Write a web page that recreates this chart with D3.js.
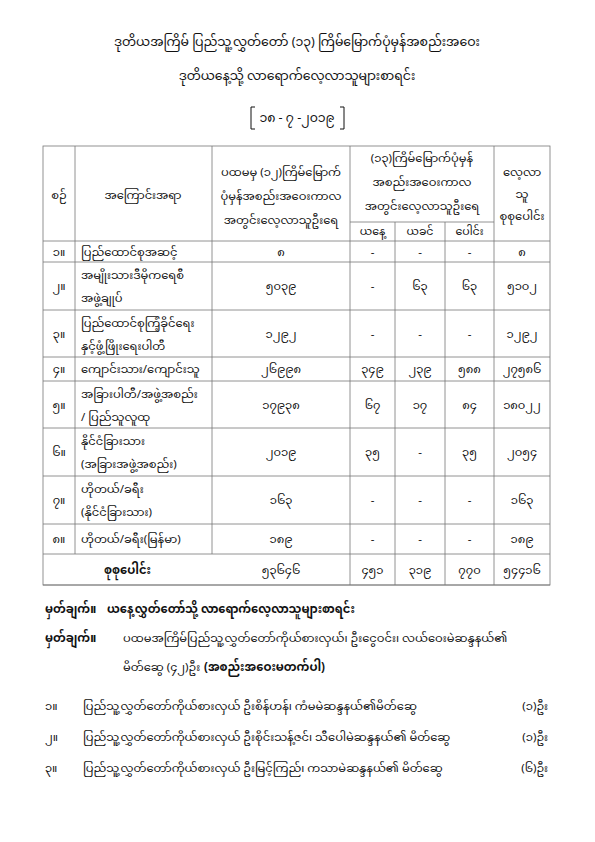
<!DOCTYPE html>
<html><head><meta charset="utf-8">
<script src="https://cdn.jsdelivr.net/npm/d3@7"></script>
<style>
body{margin:0;background:#fff}
text{font-family:"Noto Sans Myanmar","Padauk","Myanmar Text","Noto Sans",sans-serif;fill:#111}
</style></head><body>
<svg id="c" width="595" height="842"></svg>
<script>
// DATA
var rowNo = [1,2,3,4,5,6,7,8]
var categories = [
  ["ပြည်ထောင်စုအဆင့်"],
  ["အမျိုးသားဒီမိုကရေစီ","အဖွဲ့ချုပ်"],
  ["ပြည်ထောင်စုကြံ့ခိုင်ရေး","နှင့်ဖွံ့ဖြိုးရေးပါတီ"],
  ["ကျောင်းသား/ကျောင်းသူ"],
  ["အခြားပါတီ/အဖွဲ့အစည်း","/ ပြည်သူလူထု"],
  ["နိုင်ငံခြားသား","(အခြားအဖွဲ့အစည်း)"],
  ["ဟိုတယ်/ခရီး","(နိုင်ငံခြားသား)"],
  ["ဟိုတယ်/ခရီး(မြန်မာ)"]
]
var first12 = [8,5039,1292,26998,17938,2019,163,189]
var yanay = [0,0,0,349,67,35,0,0]
var yakhin = [0,63,0,239,17,0,0,0]
var total13 = [0,63,0,588,84,35,0,0]
var grand = [8,5102,1292,27586,18022,2054,163,189]
var totals = [53646,451,319,770,54416]
var notes = [
  ["၁။","ပြည်သူ့လွှတ်တော်ကိုယ်စားလှယ် ဦးစိန်ဟန်၊ ကံမမဲဆန္ဒနယ်၏မိတ်ဆွေ","(၁)ဦး"],
  ["၂။","ပြည်သူ့လွှတ်တော်ကိုယ်စားလှယ် ဦးစိုင်းသန့်ဇင်၊ သီပေါမဲဆန္ဒနယ်၏ မိတ်ဆွေ","(၁)ဦး"],
  ["၃။","ပြည်သူ့လွှတ်တော်ကိုယ်စားလှယ် ဦးမြင့်ကြည်၊ ကသာမဲဆန္ဒနယ်၏  မိတ်ဆွေ","(၆)ဦး"]
]

var mm = function(n){ return String(n).replace(/[0-9]/g, d => String.fromCharCode(0x1040 + +d)) }
var val = n => n === 0 ? "-" : mm(n)

var svg = d3.select("#c")
var cols = [43,75,212,350,395,445,494,550]
var rowEdges = [241,262,310,357,381,428,476,524,554,585]
var y = d3.scaleOrdinal().domain(d3.range(10)).range(rowEdges)
var FS = 11.5

function t(x, yy, s, anchor, bold, size){
  return svg.append("text").attr("x", x).attr("y", yy).attr("text-anchor", anchor || "middle")
    .style("font-size", (size || FS) + "px").style("font-weight", bold ? "bold" : "normal").text(s)
}

// titles
t(297, 46, "ဒုတိယအကြိမ် ပြည်သူ့လွှတ်တော် (၁၃) ကြိမ်မြောက်ပုံမှန်အစည်းအဝေး", "middle", false, 12.5)
t(297, 80, "ဒုတိယနေ့သို့ လာရောက်လေ့လာသူများစာရင်း", "middle", false, 12.5)
t(297, 122, "၁၈ - ၇ -၂၀၁၉", "middle", false, 12.5)
svg.append("path").attr("d", "M255,107 h-4 v22 h4").attr("fill", "none").attr("stroke", "#111").attr("stroke-width", 1)
svg.append("path").attr("d", "M340,107 h4 v22 h-4").attr("fill", "none").attr("stroke", "#111").attr("stroke-width", 1)

// grid
var g = svg.append("g").attr("stroke", "#777").attr("stroke-width", 0.8).attr("fill", "none")
g.append("rect").attr("x", cols[0]).attr("y", 146).attr("width", cols[7]-cols[0]).attr("height", 585-146)
;[1,2,3,6].forEach(i => g.append("line").attr("x1", cols[i]).attr("x2", cols[i]).attr("y1", 146).attr("y2", i < 3 ? 554 : 585))
;[4,5].forEach(i => g.append("line").attr("x1", cols[i]).attr("x2", cols[i]).attr("y1", 222).attr("y2", 585))
g.append("line").attr("x1", cols[3]).attr("x2", cols[6]).attr("y1", 222).attr("y2", 222)
d3.range(10).forEach(i => g.append("line").attr("x1", cols[0]).attr("x2", cols[7]).attr("y1", y(i)).attr("y2", y(i)))

// header
t(59, 199, "စဉ်")
t(143, 199, "အကြောင်းအရာ")
;["ပထမမှ (၁၂)ကြိမ်မြောက်","ပုံမှန်အစည်းအဝေးကာလ","အတွင်းလေ့လာသူဦးရေ"].forEach((s,i) => t(281, 176 + i*24, s))
;["(၁၃)ကြိမ်မြောက်ပုံမှန်","အစည်းအဝေးကာလ","အတွင်းလေ့လာသူဦးရေ"].forEach((s,i) => t(422, 162 + i*24, s))
;["လေ့လာ","သူ","စုစုပေါင်း"].forEach((s,i) => t(522, 176 + i*22, s))
;["ယနေ့","ယခင်","ပေါင်း"].forEach((s,i) => t((cols[3+i]+cols[4+i])/2, 235, s, "middle", false, 11))

// rows
var cx = i => (cols[i]+cols[i+1])/2
rowNo.forEach((n,i) => {
  var mid = (y(i)+y(i+1))/2 + 4
  t(cx(0), mid, mm(n) + "။")
  var c = categories[i]
  if (c.length === 1) t(81, mid, c[0], "start")
  else { t(81, mid - 11, c[0], "start"); t(81, mid + 12, c[1], "start") }
  t(cx(2), mid, val(first12[i]))
  t(cx(3), mid, val(yanay[i]))
  t(cx(4), mid, val(yakhin[i]))
  t(cx(5), mid, val(total13[i]))
  t(cx(6), mid, val(grand[i]))
})
var tm = (y(8)+y(9))/2 + 4
t((cols[0]+cols[2])/2, tm, "စုစုပေါင်း", "middle", true)
totals.forEach((v,i) => t(cx(2+i), tm, mm(v)))

// notes
t(45, 613, "မှတ်ချက်။", "start", true)
t(107, 613, "ယနေ့လွှတ်တော်သို့ လာရောက်လေ့လာသူများစာရင်း", "start", true)
t(45, 642, "မှတ်ချက်။", "start", true)
t(123, 642, "ပထမအကြိမ်ပြည်သူ့လွှတ်တော်ကိုယ်စားလှယ်၊ ဦးငွေဝင်း၊ လယ်ဝေးမဲဆန္ဒနယ်၏", "start")
t(123, 671, "မိတ်ဆွေ (၄၂)ဦး", "start")
t(204, 671, "(အစည်းအဝေးမတက်ပါ)", "start", true)
notes.forEach((r,i) => {
  var yy = 710 + i*31
  t(45, yy, r[0], "start")
  t(83, yy, r[1], "start")
  t(548, yy, r[2], "end")
})
</script></body></html>
